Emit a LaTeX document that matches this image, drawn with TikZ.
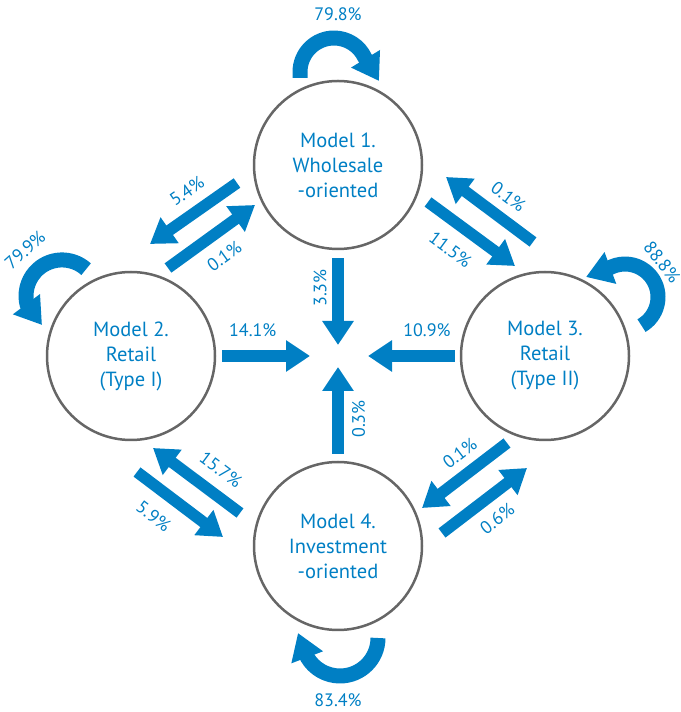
\documentclass[tikz,border=0pt]{standalone}
\usepackage{fontspec}
\setmainfont{PT Sans}
\usetikzlibrary{arrows.meta,calc}

\definecolor{flowblue}{RGB}{0,127,196}
\definecolor{ringgray}{RGB}{102,102,102}

\tikzset{
	model/.style={circle, draw=ringgray, line width=2.5pt, minimum size=168pt, align=center, text=flowblue, font=\fontsize{20.5}{25}\selectfont},
	flow/.style={draw=flowblue, line width=11.5pt, -{Triangle[length=24pt,width=30pt]}},
	stay/.style={draw=flowblue, line width=15pt, line join=round, -{Triangle[length=26pt,width=32pt]}},
	pct/.style={text=flowblue, inner sep=2pt, font=\fontsize{18}{21}\selectfont},
}

\begin{document}
\begin{tikzpicture}[x=1pt, y=1pt]
	\useasboundingbox (0,0) rectangle (680,712);

	% the four models
	\node[model] (m1) at (338,547) {Model 1.\\Wholesale\\-oriented};
	\node[model] (m2) at (131,356) {Model 2.\\Retail\\(Type I)};
	\node[model] (m3) at (545,356) {Model 3.\\Retail\\(Type II)};
	\node[model] (m4) at (338,166) {Model 4.\\Investment\\-oriented};
	\coordinate (hub) at (338,356);

	% flows into the middle
	\draw[flow, shorten <=6pt, shorten >=28pt] (m2.east) -- (hub) node[pct, pos=.3, above=12pt] (p141) {14.1\%};
	\draw[flow, shorten <=5pt, shorten >=30pt] (m3.west) -- (hub) node[pct, pos=.27, above=12pt] (p109) {10.9\%};
	\draw[flow, shorten <=8pt, shorten >=11pt] (m1.south) -- (hub);
	\draw[flow, shorten <=7pt, shorten >=11pt] (m4.north) -- (hub);
	\node[pct, rotate=90] (p33) at ($(hub)+(-18,68)$) {3.3\%};
	\node[pct, rotate=90] (p03) at ($(hub)+(20.5,-63)$) {0.3\%};

	% flows between neighbours
	\coordinate (a12) at (237,529); \coordinate (b12) at (150,468);
	\coordinate (a21) at (168,444); \coordinate (b21) at (255,507);
	\coordinate (a31) at (533,470); \coordinate (b31) at (446,535);
	\coordinate (a13) at (428,510); \coordinate (b13) at (515,446);
	\coordinate (a42) at (240,199); \coordinate (b42) at (153,264);
	\coordinate (a24) at (137,240); \coordinate (b24) at (223,175);
	\coordinate (a34) at (507,269); \coordinate (b34) at (422,204);
	\coordinate (a43) at (442,179); \coordinate (b43) at (527,244);

	\draw[flow] (a12) -- (b12) node[pct, pos=.43, sloped, above=8pt] (p54) {5.4\%};
	\draw[flow] (a21) -- (b21) node[pct, pos=.49, sloped, below=9pt] (p01a) {0.1\%};
	\draw[flow] (a31) -- (b31) node[pct, pos=.43, sloped, above=7pt] (p01b) {0.1\%};
	\draw[flow] (a13) -- (b13) node[pct, pos=.43, sloped, below=11pt] (p115) {11.5\%};
	\draw[flow] (a42) -- (b42) node[pct, pos=.38, sloped, above=9pt] (p157) {15.7\%};
	\draw[flow] (a24) -- (b24) node[pct, pos=.37, sloped, below=11pt] (p59) {5.9\%};
	\draw[flow] (a34) -- (b34) node[pct, pos=.41, sloped, above=6pt] (p01c) {0.1\%};
	\draw[flow] (a43) -- (b43) node[pct, pos=.49, sloped, below=8pt] (p06) {0.6\%};

	% staying in the same model
	\draw[stay] ($(m1)+(-38,87)$) -- ++(0,6) arc[start angle=180, end angle=25, radius=34] -- ($(m1)+(41,84)$);
	\draw[stay] ($(m2)+(-44.9,86.8)$) arc[start angle=48, end angle=195, radius=36] -- ($(m2)+(-89,31)$);
	\draw[stay] ($(m3)+(96.5,30.4)$) arc[start angle=-60, end angle=122, radius=33] -- ($(m3)+(41,79)$);
	\draw[stay] ($(m4)+(40,-92)$) arc[start angle=0, end angle=-150, radius=38] -- ($(m4)+(-40,-87)$);

	\node[pct] (p798) at (338,698) {79.8\%};
	\node[pct, rotate=42] (p799) at (25,462) {79.9\%};
	\node[pct, rotate=-52] (p888) at (662,450) {88.8\%};
	\node[pct] (p834) at (338,12) {83.4\%};
\end{tikzpicture}
\end{document}
